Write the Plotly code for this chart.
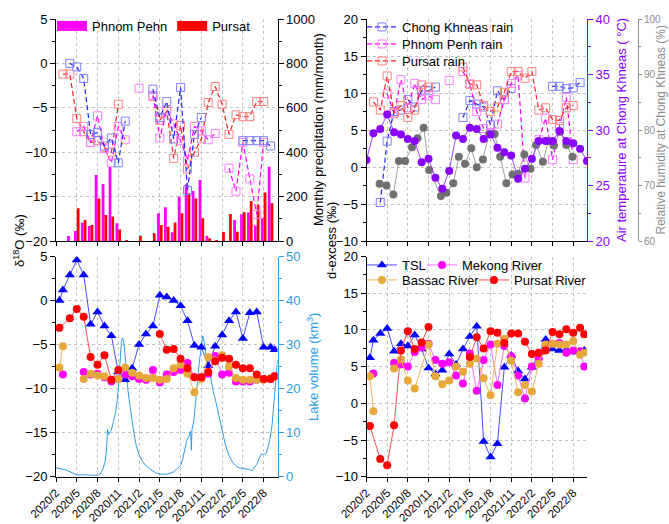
import plotly.graph_objects as go

FONT = "Liberation Sans, Arial, sans-serif"
W, H = 669, 524

# ---------------- data ----------------
x_tick_vals = [0, 3, 6, 9, 12, 15, 18, 21, 24, 27, 30]
x_tick_text = ["2020/2", "2020/5", "2020/8", "2020/11", "2021/2", "2021/5",
               "2021/8", "2021/11", "2022/2", "2022/5", "2022/8"]

# month offsets from 2020/2
iso_m = [0.5, 1, 2, 3, 4, 5, 6, 7, 8, 9, 10, 11, 12, 13, 14, 15, 16, 17, 18, 19,
         20, 21, 22, 23, 24, 25, 26, 27, 28, 29, 30, 31, 31.6]
tsl_d18o = [0.0, 1.2, 2.9, 4.6, 2.9, -2.7, -1.3, -2.9, -4.0, -8.1, -9.0, -7.7, -5.0,
            -3.8, -2.9, 0.6, 0.4, 0.0, -0.6, -2.3, -5.1, -5.3, -7.4, -5.2, -3.9, -2.3,
            -1.3, -4.3, -1.4, -1.3, -5.3, -5.3, -5.6]
tsl_dex = [6.2, 8.6, 9.5, 10.2, 7.1, 8.1, 7.8, 9.3, 7.4, 4.8, 4.0, 4.5, 6.7, 5.3, 7.4,
           9.1, 10.5, -5.2, -7.3, -5.5, 4.9, 6.5, 4.4, 3.3, 4.9, 6.9, 8.7, 7.4, 7.2,
           7.3, 7.0, 7.0, 7.2]

pr_m = [0.5, 2, 3, 4, 5, 6, 7, 8, 9, 12, 15, 16, 17, 18, 19, 20, 21, 22, 23, 24, 25,
        26, 27, 28, 29, 30, 31, 31.6]
pr_d18o = [-3.1, -2.0, -0.95, -1.85, -6.4, -7.3, -6.2, -9.0, -7.9, None, -3.8, -5.6,
           -5.5, -6.6, -7.7, -8.7, -8.7, -8.1, -6.9, -6.5, -6.6, -7.3, -7.7, -7.7,
           -8.4, -8.9, -8.9, -8.6]
pr_dex = [-3.1, -7.6, -8.45, -3.0, 7.2, 9.8, 7.4, 8.3, 10.4, None, 6.3, 9.0, 7.45,
          9.8, 9.6, 8.2, 9.5, 9.5, 8.4, 6.7, 6.9, 7.2, 9.7, 9.4, 10.1, 9.6, 10.3, 9.4]

mk_m = [1, 2, 4, 5, 6, 7, 8, 9, 10, 11, 12, 13, 14, 15, 16, 17, 18, 19, 20, 21, 22,
        23, 24, 25, 26, 27, 28, 29, 30, 31, 31.6]
mk_d18o = [-8.4, None, -8.1, -8.4, -8.3, -8.7, -9.2, -8.9, -8.4, -8.6, -8.9, -9.0,
           -7.9, -9.3, -8.4, -8.1, -7.9, -7.1, -8.7, -8.7, -8.3, -6.3, -8.4, -8.2,
           -9.2, -9.2, -9.2, -9.0, -8.9, -8.9, -8.6]
mk_dex = [4.05, None, 5.5, 5.3, 5.0, 7.0, 7.6, 8.1, 5.9, 5.4, 5.6, 3.8, 2.7, 6.8, 1.7,
          5.9, 8.0, 2.5, 7.8, 6.4, 3.8, 0.65, 5.0, 6.1, 7.9, 8.1, 8.2, 6.9, 7.2, 7.1,
          5.0]

bs_m = [0.5, 1, 2, 4, 5, 6, 7, 9, 10, 11, 12, 13, 14, 15, 16, 17, 18, 19, 20, 21, 22,
        23, 24, 25, 26, 27, 28, 29, 30, 31, 31.6]
bs_d18o = [-7.6, -5.2, None, -8.9, -8.3, -8.5, -8.6, -8.9, -7.6, -8.2, -8.5, -8.8,
           -8.8, -9.0, -8.9, -7.7, -7.3, -8.3, -10.4, -8.9, -6.4, -6.8, -6.2, -7.5,
           -8.8, -9.0, -9.0, -9.0, -9.0, -8.8, -8.6]
bs_dex = [3.7, -1.1, None, 4.75, 6.0, 3.1, 2.0, 8.0, 3.7, 2.6, 3.1, 5.0, 4.3, 5.4,
          6.1, 3.4, 1.1, 8.1, 8.8, 5.8, 1.5, 2.5, 1.6, 5.4, 8.0, 8.1, 8.0, 8.0, 8.5,
          6.6, 6.9]

# rain isotopes
ck_m = [2, 3, 4, 5, 6, 7, 8, 9, 10, 11, 14, 15, 16, 17, 18, 19, 20, 21, 22, 27, 28,
        29, 30, 31]
ck_d18o = [0.0, -0.4, -1.7, -8.0, -7.8, -9.3, -8.4, -11.2, -6.5, None, -2.9, -6.1,
           -4.3, -8.5, -2.7, -14.3, -8.0, -6.1, None, -8.7, -8.7, -8.7, -8.7, -9.3]
ck_dex = [-4.8, 3.5, 7.5, 7.7, 9.1, 8.1, 10.3, 10.3, 10.8, None, 6.7, 9.0, 8.5, 8.1,
          5.7, 10.3, 9.1, 10.6, None, 10.9, 10.9, 10.6, 10.7, 11.4]

pp_m = [3, 4, 5, 6, 7, 8, 9, 10, 11, 12, 13, 14, 15, 16, 17, 18, 19, 20, 21, 22, 23,
        24, 25, 26, 27, 28, 29, 30]
pp_d18o = [-7.7, -7.1, -8.9, -5.9, -9.6, -11.2, -7.1, -8.6, None, -2.8, None, -3.6,
           -8.4, -5.2, -6.8, -8.7, -10.9, -7.1, -7.6, -8.6, -7.9, None, -11.8, -14.4,
           -8.9, -13.0, -17.0, -8.9]
pp_dex = [9.9, 7.2, 11.8, 8.0, 11.3, 9.1, 9.6, 9.1, None, 11.7, None, 12.9, 11.2, 7.5,
          5.2, 4.6, 5.8, 9.1, 11.3, 12.4, -1.5, None, 3.7, 6.6, 1.0, 5.5, 9.4, 1.0]

pu_m = [1, 2, 3, 4, 5, 6, 7, 8, 9, 10, 11, 12, 13, 14, 15, 16, 17, 18, 19, 20, 21, 22,
        23, 24, 25, 26, 27, 28, 29, 30]
pu_d18o = [-1.2, -1.2, -6.2, -7.7, -8.9, -8.7, -9.5, -10.0, -4.6, None, None, None,
           None, -3.7, -6.4, -5.4, -10.7, -7.0, -11.9, -10.0, -8.5, -4.4, -2.6, -4.6,
           -8.0, -5.8, -6.0, -6.0, -4.3, -4.3]
pu_dex = [8.8, 7.7, 12.3, 7.3, 8.3, 6.7, 7.7, 11.1, 10.8, None, None, None, None,
          13.5, 11.2, 11.1, 8.3, 7.5, 8.1, 10.1, 12.9, 12.9, 12.0, 12.9, 7.7, 8.0, 6.4,
          6.3, 8.0, 8.3]

# monthly precipitation (mm/month)
bar_m = [2, 3, 4, 5, 6, 7, 8, 9, 10, 11, 12, 13, 14, 15, 16, 17, 18, 19, 20, 21, 22,
         23, 24, 25, 26, 27, 28, 29, 30, 31]
precip_pp = [22, 45, 82, 68, 297, 257, 335, 80, 0, 0, 0, 0, 0, 125, 152, 39, 200, 254,
             225, 275, 24, 0, 0, 0, 95, 120, 128, 70, 102, 335]
precip_pu = [0, 147, 95, 72, 192, 117, 110, 52, 3, 0, 24, 0, 35, 72, 64, 83, 125, 215,
             192, 102, 12, 4, 40, 122, 42, 130, 180, 162, 218, 170]

# air temperature (°C) at Chong Khneas
temp_m = list(range(0, 33))
temp_c = [27.3, 29.7, 30.1, 31.4, 29.8, 29.6, 29.2, 29.0, 27.1, 27.4, 25.7, 24.7, 26.3,
          29.5, 29.2, 30.2, 30.1, 29.2, 29.6, 28.4, 28.0, 27.7, 25.6, 26.5, 27.4, 29.0,
          29.0, 29.0, 29.9, 29.0, 28.8, 28.3, 27.2]

# relative humidity (%) at Chong Khneas
rh_m = [1.9, 2.9, 3.9, 4.7, 5.6, 6.6, 7.4, 8.3, 9.1, 10.8, 11.6, 12.6, 13.4, 14.3,
        15.2, 16.0, 16.9, 17.8, 18.6, 19.4, 20.3, 21.2, 22.0, 22.9, 23.8, 24.6, 25.6,
        26.4, 27.2, 28.1, 29.0, 29.9]
rh_pct = [70.3, 70.0, 68.4, 74.4, 74.4, 76.9, 78.5, 80.4, 72.8, 68.1, 68.7, 70.4, 75.2,
          73.9, 76.7, 73.3, 74.7, 79.3, 79.3, 75.2, 70.4, 72.0, 72.1, 75.6, 73.0, 77.3,
          74.3, 78.0, 77.2, 79.7, 77.3, 75.2]

# lake volume (km3)
lake_m = [0.0, 0.5, 1.0, 1.5, 2.0, 2.5, 3.0, 3.5, 4.0, 4.5, 5.0, 5.5, 6.0, 6.4, 6.8,
          7.1, 7.3, 7.45, 7.6, 7.8, 8.0, 8.3, 8.6, 8.9, 9.1, 9.3, 9.45, 9.6, 9.75, 9.9,
          10.1, 10.4, 10.7, 11.0, 11.3, 11.6, 12.0, 12.5, 13.0, 13.5, 14.0, 14.5, 15.0,
          15.5, 16.0, 16.5, 17.0, 17.5, 18.0, 18.3, 18.6, 18.9, 19.2, 19.45, 19.55,
          19.65, 19.9, 20.1, 20.4, 20.7, 21.0, 21.2, 21.35, 21.6, 21.9, 22.3, 22.7,
          23.1, 23.5, 24.0, 24.5, 25.0, 25.5, 26.0, 26.5, 27.0, 27.5, 28.0, 28.3, 28.6,
          29.0, 29.4, 29.7, 30.0, 30.3, 30.6, 30.9, 31.2, 31.5, 31.7, 31.85, 32.0]
lake_v = [2.0, 1.9, 1.7, 1.5, 1.1, 0.7, 0.4, 0.4, 0.45, 0.4, 0.35, 0.3, 0.3, 0.6, 1.8,
          3.5, 6.0, 10.8, 9.6, 10.2, 10.6, 12.5, 14.5, 18.0, 22.5, 28.0, 30.5, 31.5,
          31.0, 29.0, 25.0, 19.5, 16.0, 12.5, 9.5, 7.0, 5.0, 3.5, 2.5, 1.8, 1.2, 0.8,
          0.6, 0.5, 0.55, 0.8, 1.1, 1.8, 2.6, 4.0, 6.0, 8.3, 9.2, 10.3, 6.0, 10.8, 12.5,
          16.0, 21.5, 26.0, 29.5, 32.0, 31.0, 28.5, 25.5, 23.0, 19.5, 17.0, 14.0, 10.0,
          7.0, 4.8, 3.3, 2.4, 2.0, 1.9, 1.7, 1.6, 1.3, 1.9, 2.8, 4.3, 5.2, 5.0, 5.2, 6.5,
          8.5, 11.5, 16.5, 21.0, 24.0, 26.5]

# ---------------- styling helpers ----------------
def px(x):
    return x / W


def py(y):
    return 1 - y / H


LAKE_C = "#2E9DEB"
PURP_C = "#8A00FF"
GRAY_C = "#8C8C8C"
GRID_C = "#C4C4C4"

fig = go.Figure()


def rain(x, y, name, mc, lc, xa, ya, leg=None):
    return go.Scatter(x=x, y=y, mode="lines+markers", name=name,
                      line=dict(color=lc, width=1.2, dash="5px,3px"),
                      marker=dict(symbol="square-open", size=8, color=mc,
                                  line=dict(width=1, color=mc)),
                      xaxis=xa, yaxis=ya, showlegend=leg is not None,
                      legend=leg if leg else "legend", connectgaps=False)


def river(x, y, name, mc, lc, sym, size, xa, ya, leg=None):
    return go.Scatter(x=x, y=y, mode="lines+markers", name=name,
                      line=dict(color=lc, width=1),
                      marker=dict(symbol=sym, size=size, color=mc),
                      xaxis=xa, yaxis=ya, showlegend=leg is not None,
                      legend=leg if leg else "legend", connectgaps=False)


# ---- top-left: precipitation bars + rain d18O ----
fig.add_trace(go.Bar(x=bar_m, y=precip_pp, marker=dict(color="#FF00FF", line=dict(width=0)),
                     xaxis="x", yaxis="y", showlegend=False, name="Phnom Pehn"))
fig.add_trace(go.Bar(x=bar_m, y=precip_pu, marker=dict(color="#FF0000", line=dict(width=0)),
                     xaxis="x", yaxis="y", showlegend=False, name="Pursat"))
fig.add_trace(go.Scatter(x=[None], y=[None], mode="lines", name="Phnom Pehn",
                         line=dict(color="#FF00FF", width=10), xaxis="x", yaxis="y",
                         legend="legend"))
fig.add_trace(go.Scatter(x=[None], y=[None], mode="lines", name="Pursat",
                         line=dict(color="#FF0000", width=10), xaxis="x", yaxis="y",
                         legend="legend"))
fig.add_trace(rain(pu_m, pu_d18o, "Pursat rain", "#FF8080", "#FF2020", "x", "y2"))
fig.add_trace(rain(pp_m, pp_d18o, "Phnom Penh rain", "#FF80FF", "#FF00FF", "x", "y2"))
fig.add_trace(rain(ck_m, ck_d18o, "Chong Khneas rain", "#8080FF", "#2020FF", "x", "y2"))

# ---- bottom-left: lake volume + river d18O ----
fig.add_trace(go.Scatter(x=lake_m, y=lake_v, mode="lines", line=dict(color=LAKE_C, width=1),
                         xaxis="x2", yaxis="y3", showlegend=False, name="Lake volume"))
fig.add_trace(river(iso_m, tsl_d18o, "TSL", "#0000FF", "#4A4AFF", "triangle-up", 9, "x2", "y4"))
fig.add_trace(river(mk_m, mk_d18o, "Mekong River", "#FF00FF", "#FF70FF", "circle", 8, "x2", "y4"))
fig.add_trace(river(bs_m, bs_d18o, "Bassac River", "#E6A83A", "#EDB65C", "circle", 8, "x2", "y4"))
fig.add_trace(river(pr_m, pr_d18o, "Pursat River", "#FF0000", "#FF5050", "circle", 8, "x2", "y4"))

# ---- top-right: rain d-excess + air temp + RH ----
fig.add_trace(rain(ck_m, ck_dex, "Chong Khneas rain", "#8080FF", "#2020FF", "x3", "y5", "legend2"))
fig.add_trace(rain(pp_m, pp_dex, "Phnom Penh rain", "#FF80FF", "#FF00FF", "x3", "y5", "legend3"))
fig.add_trace(rain(pu_m, pu_dex, "Pursat rain", "#FF8080", "#FF2020", "x3", "y5", "legend4"))
fig.add_trace(go.Scatter(x=rh_m, y=rh_pct, mode="lines+markers", line=dict(color="#A0A0A0", width=1),
                         marker=dict(size=8, color="#707070"), xaxis="x3", yaxis="y6",
                         showlegend=False, name="RH"))
fig.add_trace(go.Scatter(x=temp_m, y=temp_c, mode="lines+markers", line=dict(color="#9B40FF", width=1),
                         marker=dict(size=8, color=PURP_C), xaxis="x3", yaxis="y7",
                         showlegend=False, name="Air temperature"))

# ---- bottom-right: river d-excess ----
fig.add_trace(river(iso_m, tsl_dex, "TSL", "#0000FF", "#4A4AFF", "triangle-up", 9, "x4", "y8", "legend5"))
fig.add_trace(river(mk_m, mk_dex, "Mekong River", "#FF00FF", "#FF70FF", "circle", 8, "x4", "y8", "legend6"))
fig.add_trace(river(bs_m, bs_dex, "Bassac River", "#E6A83A", "#EDB65C", "circle", 8, "x4", "y8", "legend7"))
fig.add_trace(river(pr_m, pr_dex, "Pursat River", "#FF0000", "#FF5050", "circle", 8, "x4", "y8", "legend8"))

# ---------------- axes ----------------
tickfont = dict(family=FONT, size=13, color="black")


def ax(**kw):
    d = dict(showline=True, linecolor="black", linewidth=1, ticks="outside", ticklen=5,
             tickwidth=1, tickcolor="black", showgrid=False, zeroline=False,
             tickfont=tickfont, mirror=False, automargin=False)
    d.update(kw)
    return d


def xax(domain, anchor, labels):
    return ax(domain=domain, anchor=anchor, range=[0, 32], tickmode="array",
              tickvals=x_tick_vals, ticktext=x_tick_text, showticklabels=labels,
              tickangle=-45, showgrid=True, gridcolor=GRID_C, griddash="dot", gridwidth=1,
              tickfont=dict(family=FONT, size=11.5, color="black"), ticklen=4)


L_dom = [px(56), px(277.5)]
R_dom = [px(366.5), px(587)]
T_dom = [py(241), py(19)]
B_dom = [py(476.7), py(256.5)]


def grid_y(**kw):
    kw.update(showgrid=True, gridcolor=GRID_C, griddash="dot", gridwidth=1)
    return kw


fig.update_layout(
    xaxis=xax(L_dom, "y", False),
    xaxis2=xax(L_dom, "y3", True),
    xaxis3=xax(R_dom, "y5", False),
    xaxis4=xax(R_dom, "y8", True),
    yaxis=ax(**grid_y(domain=T_dom, anchor="x", side="right", range=[0, 1000], dtick=200,
                      minor=dict(dtick=100, ticks="outside", ticklen=3, tickcolor="black"))),
    yaxis2=ax(overlaying="y", anchor="x", side="left", range=[-20, 5], dtick=5,
              minor=dict(dtick=2.5, ticks="outside", ticklen=3, tickcolor="black")),
    yaxis3=ax(**grid_y(domain=B_dom, anchor="x2", side="right", range=[0, 50], dtick=10,
                       linecolor=LAKE_C, tickcolor=LAKE_C,
                       tickfont=dict(family=FONT, size=13, color=LAKE_C),
                       minor=dict(dtick=5, ticks="outside", ticklen=3, tickcolor=LAKE_C))),
    yaxis4=ax(overlaying="y3", anchor="x2", side="left", range=[-20, 5], dtick=5,
              minor=dict(dtick=2.5, ticks="outside", ticklen=3, tickcolor="black")),
    yaxis5=ax(**grid_y(domain=T_dom, anchor="x3", side="left", range=[-10, 20], dtick=5,
                       minor=dict(dtick=2.5, ticks="outside", ticklen=3, tickcolor="black"))),
    yaxis6=ax(overlaying="y5", anchor="free", position=px(638), side="right", range=[60, 100],
              dtick=10, linecolor=GRAY_C, tickcolor=GRAY_C, ticklen=3,
              tickfont=dict(family=FONT, size=10, color=GRAY_C),
              minor=dict(dtick=5, ticks="outside", ticklen=2, tickcolor=GRAY_C)),
    yaxis7=ax(overlaying="y5", anchor="x3", side="right", range=[20, 40], dtick=5,
              linecolor=PURP_C, tickcolor=PURP_C,
              tickfont=dict(family=FONT, size=13, color=PURP_C),
              minor=dict(dtick=2.5, ticks="outside", ticklen=3, tickcolor=PURP_C)),
    yaxis8=ax(**grid_y(domain=B_dom, anchor="x4", side="left", range=[-10, 20], dtick=5,
                       minor=dict(dtick=2.5, ticks="outside", ticklen=3, tickcolor="black"))),
)

legfont = dict(family=FONT, size=13, color="black")


def leg(x, y, orient="v"):
    return dict(orientation=orient, x=px(x), y=py(y), xanchor="left", yanchor="top",
                font=legfont, bgcolor="rgba(0,0,0,0)", itemwidth=30)


fig.update_layout(
    legend=leg(52, 11, "h"),
    legend2=leg(362, 12),
    legend3=leg(362, 29),
    legend4=leg(362, 46),
    legend5=leg(362, 250),
    legend6=leg(422, 250),
    legend7=leg(362, 265),
    legend8=leg(474, 265),
)

annots = [
    ("δ<sup>18</sup>O (‰)", 19, 241, "black", 13),
    ("Monthly precipitation (mm/month)", 318, 130, "black", 13),
    ("Lake volume (km<sup>3</sup>)", 313, 367, LAKE_C, 13),
    ("d-excess (‰)", 332, 241, "black", 13),
    ("Air temperature at Chong Khneas ( °C)", 621, 130, PURP_C, 13),
    ("Relative humidity at Chong Khneas (%)", 660.5, 130, GRAY_C, 12),
]
fig.update_layout(annotations=[
    dict(text=t, x=px(xx), y=py(yy), xref="paper", yref="paper", showarrow=False,
         textangle=-90, xanchor="center", yanchor="middle",
         font=dict(family=FONT, size=s, color=c))
    for t, xx, yy, c, s in annots
])

fig.update_layout(
    width=W, height=H, margin=dict(l=0, r=0, t=0, b=0, autoexpand=False),
    paper_bgcolor="white", plot_bgcolor="white",
    barmode="group", bargap=0.2, bargroupgap=0.0,
    font=dict(family=FONT, size=13, color="black"),
)

fig.write_html("out.html")
